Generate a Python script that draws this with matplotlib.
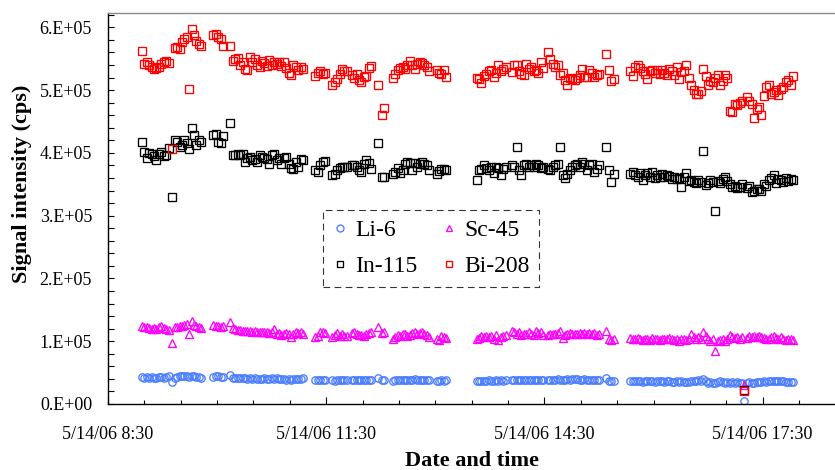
import numpy as np
import matplotlib
matplotlib.use("Agg")
import matplotlib.pyplot as plt
from matplotlib.ticker import FixedLocator, MultipleLocator, NullFormatter

plt.rcParams['font.family'] = ['Liberation Serif', 'DejaVu Serif']

# sample times, minutes after 5/14/06 8:30
minutes = [
    28, 30, 32, 34, 36, 38, 40, 42, 44, 46, 48, 50, 53, 55, 57, 59, 61, 63, 65, 67, 69, 71, 73, 75, 77,
    87, 89, 91, 93, 95, 101, 103, 105, 107, 109, 111, 113, 115, 117, 119, 121, 123, 125, 127, 129, 131,
    133, 135, 137, 139, 141, 143, 145, 147, 149, 151, 153, 155, 157, 159, 161,
    171, 173, 175, 177, 179, 185, 187, 189, 191, 193, 195, 197, 201, 203, 205, 207, 209, 211, 213, 215,
    217, 223, 226, 228,
    235, 237, 239, 241, 243, 245, 247, 249, 251, 253, 255, 257, 259, 261, 263, 265,
    271, 273, 275, 277, 279,
    304, 306, 308, 310, 312, 314, 316, 318, 320, 322, 324, 326, 328, 333, 335, 337, 339, 341, 343, 345,
    347, 349, 351, 353, 355, 357, 359,
    363, 365, 367, 369, 371, 373, 375, 377, 379, 381, 383, 385, 387, 389, 391, 393, 395, 397, 399, 401,
    403, 405, 411, 413, 415, 417,
    431, 433, 435, 437, 439, 441, 443, 445, 447, 449, 451, 453, 455, 457, 459, 461, 463, 465, 467, 469,
    471, 473, 475, 477, 479, 481, 483, 485, 487, 489, 491, 493, 495, 497, 499, 501, 503, 505, 507, 509,
    511, 513, 515, 517, 519, 521, 523, 525, 527, 529, 531, 533, 535, 537, 539, 541, 543, 545, 547, 549,
    551, 553, 555, 557, 559, 561, 563, 565,
]

# signal intensities, thousands of cps
li6 = [
    43, 42, 43, 42, 43, 42, 42, 43, 43, 42, 43, 44, 35, 42, 43, 44, 44, 45, 44, 43, 45, 44, 43, 43, 42,
    43, 44, 44, 43, 43, 46, 42, 41, 41, 41, 41, 41, 40, 41, 40, 41, 40, 40, 40, 41, 40, 40, 41, 40, 41,
    40, 40, 40, 39, 40, 39, 40, 40, 40, 40, 41,
    38, 38, 39, 39, 39, 38, 37, 38, 38, 38, 38, 38, 38, 38, 38, 38, 39, 39, 39, 39, 39, 41, 38, 38,
    37, 38, 38, 38, 39, 39, 38, 39, 39, 40, 39, 39, 39, 39, 39, 39,
    37, 37, 38, 37, 38,
    36, 37, 37, 37, 37, 38, 37, 37, 38, 37, 38, 37, 38, 39, 38, 39, 39, 38, 39, 38, 39, 39, 38, 39, 38,
    39, 39,
    38, 39, 39, 39, 40, 39, 39, 39, 40, 39, 40, 40, 40, 39, 39, 40, 39, 39, 39, 38, 38, 38, 41, 37, 36, 36,
    36, 36, 36, 36, 36, 35, 36, 36, 36, 36, 35, 36, 36, 36, 35, 36, 36, 35, 35, 36,
    35, 36, 35, 35, 35, 36, 37, 36, 38, 36, 40, 37, 34, 35, 34, 33, 35, 36, 35, 34,
    35, 34, 35, 34, 35, 34, 34, 5, 34, 35, 34, 34, 35, 35, 35, 36, 35, 36, 37, 36,
    37, 36, 37, 36, 35, 35, 35, 35,
]
sc45 = [
    125, 123, 122, 121, 120, 121, 120, 122, 124, 121, 119, 118, 97, 122, 123, 124, 125, 126, 128, 112,
    133, 126, 124, 122, 121,
    126, 125, 124, 123, 124, 131, 121, 119, 118, 118, 117, 116, 117, 116, 115, 116, 115, 115, 114, 115,
    114, 113, 114, 119, 112, 113, 110, 112, 113, 112, 106, 112, 114, 113, 115, 112,
    106, 108, 114, 115, 113, 107, 110, 113, 108, 111, 109, 108, 113, 114, 112, 110, 110, 108, 112, 113,
    114, 122, 113, 114,
    104, 106, 110, 108, 111, 112, 109, 110, 113, 115, 111, 113, 115, 112, 110, 107,
    103, 102, 108, 106, 105,
    103, 105, 108, 107, 109, 106, 108, 104, 110, 102, 106, 108, 110, 117, 115, 112, 114, 110, 112, 111,
    114, 112, 110, 116, 113, 114, 110,
    110, 111, 112, 112, 113, 117, 105, 110, 112, 113, 112, 111, 112, 113, 112, 113, 112, 113, 112, 113,
    110, 112, 116, 104, 102, 103,
    105, 104, 103, 105, 104, 102, 104, 103, 102, 105, 103, 104, 102, 104, 103, 104, 105, 103, 102, 104,
    101, 103, 104, 102, 104, 112, 107, 104, 106, 103, 115, 108, 104, 101, 103, 84, 100, 102, 103, 101,
    104, 110, 107, 105, 106, 104, 106, 30, 105, 108, 106, 109, 107, 108, 106, 105, 103, 104, 106, 108,
    105, 104, 106, 104, 102, 103, 104, 102,
]
in115 = [
    417, 402, 392, 400, 398, 395, 389, 398, 401, 395, 396, 408, 329, 421, 418, 410, 412, 420, 415, 406,
    440, 428, 412, 420, 418,
    428, 430, 418, 416, 427, 447, 397, 397, 399, 396, 398, 386, 392, 394, 389, 390, 386, 396, 394, 392,
    390, 383, 397, 399, 389, 392, 383, 392, 394, 383, 376, 374, 386, 378, 390, 388,
    372, 370, 380, 385, 387, 365, 367, 373, 376, 378, 377, 378, 381, 380, 378, 372, 370, 383, 389, 384,
    375, 415, 361, 362,
    366, 370, 376, 368, 372, 382, 385, 384, 372, 384, 378, 382, 386, 383, 380, 373,
    367, 371, 374, 375, 373,
    357, 372, 375, 380, 376, 372, 377, 368, 378, 376, 364, 375, 378, 380, 377, 409, 372, 364, 380, 383,
    378, 381, 377, 383, 380, 376, 378,
    375, 372, 377, 380, 383, 410, 364, 360, 367, 372, 378, 380, 382, 378, 386, 383, 372, 380, 383, 370,
    375, 380, 410, 372, 354, 367,
    366, 370, 365, 362, 368, 357, 364, 368, 362, 370, 360, 365, 362, 366, 361, 364, 363, 359, 362, 358,
    360, 346, 362, 368, 355, 357, 354, 352, 356, 354, 403, 349, 352, 356, 354, 307, 355, 352, 358, 362,
    355, 350, 346, 348, 344, 346, 350, 23, 344, 348, 338, 340, 342, 343, 340, 350, 347, 357, 360, 364,
    352, 358, 357, 354, 360, 355, 358, 356,
]
bi208 = [
    563, 542, 545, 540, 536, 534, 535, 537, 541, 545, 547, 543, 406, 567, 569, 566, 577, 582, 584, 502,
    598, 587, 578, 574, 570,
    588, 590, 585, 582, 571, 570, 547, 550, 551, 540, 545, 533, 532, 553, 545, 550, 540, 536, 546, 543,
    538, 548, 540, 545, 541, 545, 538, 545, 535, 528, 524, 540, 536, 532, 536, 534,
    523, 527, 530, 526, 527, 508, 513, 517, 526, 533, 531, 530, 524, 520, 526, 516, 513, 521, 522, 535,
    539, 508, 460, 472,
    520, 526, 532, 535, 536, 534, 540, 547, 540, 534, 542, 545, 543, 540, 537, 531,
    532, 527, 526, 532, 521,
    520, 517, 512, 522, 526, 530, 532, 521, 527, 540, 530, 534, 537, 529, 540, 540, 531, 526, 524, 542,
    533, 537, 530, 532, 528, 545, 535,
    561, 549, 542, 537, 540, 524, 527, 516, 508, 520, 518, 516, 520, 524, 534, 521, 521, 532, 528, 521,
    524, 526, 558, 532, 515, 518,
    530, 522, 537, 540, 535, 530, 526, 518, 530, 532, 528, 532, 525, 532, 528, 524, 534, 530, 524, 537,
    518, 529, 531, 540, 520, 508, 500, 493, 494, 498, 533, 522, 508, 515, 513, 520, 524, 508, 515, 524,
    520, 467, 465, 478, 476, 480, 483, 21, 489, 483, 478, 455, 470, 473, 460, 490, 505, 508, 494, 497,
    500, 492, 502, 505, 513, 516, 508, 522,
]

series_names = ["Li-6", "Sc-45", "In-115", "Bi-208"]
series_colors = ["#4A7DFF", "#FF00FF", "#000000", "#FF0000"]
series_markers = ["o", "^", "s", "s"]

x_tick_minutes = [0, 180, 360, 540]
x_tick_labels = ["5/14/06 8:30", "5/14/06 11:30", "5/14/06 14:30", "5/14/06 17:30"]
y_ticks = [0, 1e5, 2e5, 3e5, 4e5, 5e5, 6e5]
y_tick_labels = ["0.E+00", "1.E+05", "2.E+05", "3.E+05", "4.E+05", "5.E+05", "6.E+05"]

W, H = 835, 470
fig = plt.figure(figsize=(W / 100, H / 100), dpi=100)
ax = fig.add_axes([108 / W, 1 - 404 / H, 1 - 108 / W, (404 - 13) / H])

t = np.array(minutes, dtype=float)
handles = []
for vals, name, col, mk in zip([li6, sc45, in115, bi208], series_names, series_colors, series_markers):
    v = np.array(vals, dtype=float) * 1e3
    (ln,) = ax.plot(t, v, linestyle="none", marker=mk, ms=5.3, mfc="none", mec=col, mew=0.95,
                    label=name)
    handles.append(ln)

ax.set_xlim(0, 599.7)
ax.set_ylim(0, 6.228e5)

ax.xaxis.set_major_locator(FixedLocator(x_tick_minutes))
ax.set_xticklabels(x_tick_labels)
ax.xaxis.set_minor_locator(MultipleLocator(30))
ax.xaxis.set_minor_formatter(NullFormatter())
ax.yaxis.set_major_locator(FixedLocator(y_ticks))
ax.set_yticklabels(y_tick_labels)
ax.yaxis.set_minor_locator(MultipleLocator(2e4))

ax.tick_params(axis="x", which="major", direction="in", length=4.8, width=0.8, pad=16, labelsize=13)
ax.tick_params(axis="x", which="minor", direction="in", length=3.2, width=0.8)
ax.tick_params(axis="y", which="both", direction="in", length=4.3, width=0.8, pad=11.5, labelsize=13)

for side in ["left", "bottom"]:
    ax.spines[side].set_color("black")
    ax.spines[side].set_linewidth(1.0)
ax.spines["top"].set_color("#8c8c8c")
ax.spines["top"].set_linewidth(1.0)
ax.spines["right"].set_visible(False)

fig.text(472 / W, 1 - 466 / H, "Date and time", ha="center", va="baseline",
         fontsize=16, fontweight="bold")
fig.text(22 / W, 1 - 184 / H, "Signal intensity (cps)", ha="center", va="center",
         rotation=90, fontsize=16, fontweight="bold")

order = [0, 2, 1, 3]
leg = ax.legend([handles[i] for i in order], [series_names[i] for i in order], ncol=2,
                loc="upper left", bbox_to_anchor=(323 / W, 1 - 210 / H),
                bbox_transform=fig.transFigure, borderaxespad=0, fontsize=17,
                frameon=True, fancybox=False, edgecolor="black", markerscale=0.95,
                handlelength=0.6, handletextpad=0.35, columnspacing=1.05,
                borderpad=0.4, labelspacing=0.62)
fr = leg.get_frame()
fr.set_linestyle((0, (6, 4)))
fr.set_linewidth(0.8)
fr.set_facecolor("white")

fig.savefig("out.png", dpi=100)
